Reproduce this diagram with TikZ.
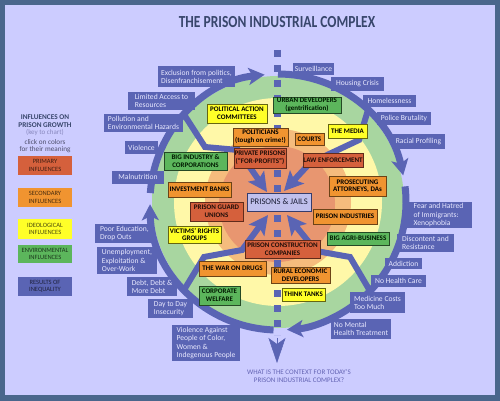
\documentclass[tikz,border=0pt]{standalone}
\usepackage{fontspec}
\setmainfont{Carlito}
\usetikzlibrary{arrows.meta,calc}
\definecolor{framec}{RGB}{74,102,140}
\definecolor{bgc}{RGB}{204,204,255}
\definecolor{ringc}{RGB}{90,100,180}
\definecolor{greenring}{RGB}{168,214,160}
\definecolor{yellowring}{RGB}{255,248,168}
\definecolor{peachc}{RGB}{245,188,125}
\definecolor{salmonc}{RGB}{232,150,112}
\definecolor{primc}{RGB}{213,96,60}
\definecolor{secc}{RGB}{240,148,48}
\definecolor{ideoc}{RGB}{255,255,40}
\definecolor{envc}{RGB}{92,182,92}
\definecolor{jailc}{RGB}{192,192,236}
\definecolor{bluetxt}{RGB}{232,232,255}
\definecolor{titlec}{RGB}{56,70,108}
\definecolor{keyc}{RGB}{136,136,190}
\definecolor{clickc}{RGB}{80,80,110}
\definecolor{bottomc}{RGB}{100,100,180}
\begin{document}
\begin{tikzpicture}[x=1pt,y=-1pt,
  bxbase/.style={line width=0.7pt, inner sep=0pt, align=center, font=\fontsize{7}{7.6}\selectfont\bfseries},
  bxprim/.style={bxbase, fill=primc, draw=primc!45!black, text=black!85!primc},
  bxsec/.style={bxbase, fill=secc, draw=secc!45!black, text=black},
  bxideo/.style={bxbase, fill=ideoc, draw=ideoc!40!black, text=black},
  bxenv/.style={bxbase, fill=envc, draw=envc!40!black, text=black!90!green},
  bxjail/.style={line width=0.7pt, inner sep=0pt, fill=jailc, draw=ringc!60!black, text=ringc!30!black, font=\fontsize{8.6}{9}\selectfont},
  bxres/.style={fill=ringc, text=bluetxt, inner sep=0pt, align=left, font=\fontsize{7.6}{8.2}\selectfont},
  bxkey/.style={inner sep=0pt, minimum width=54, align=center, font=\fontsize{6.5}{7.4}\selectfont},
  ringarrow/.style={draw=ringc, line width=7pt, -{Stealth[length=16pt,width=17pt,inset=4pt]}},
  brancharrow/.style={draw=ringc, line width=6pt, -{Stealth[length=19pt,width=19pt,inset=4pt]}}
]
\useasboundingbox (0,0) rectangle (500,401);
\fill[framec] (0,0) rectangle (500,401);
\fill[bgc] (5,5) rectangle (495,395);

% title
\node[text=titlec, font=\fontsize{13.5}{15}\selectfont\bfseries] (title) at (277,22) {\scalebox{1}[1.25]{THE PRISON INDUSTRIAL COMPLEX}};

% discs
\coordinate (C) at (278,202);
\fill[greenring] (C) circle[radius=126];
\fill[yellowring] (C) circle[radius=104];
\fill[peachc] (C) circle[radius=73];
\fill[salmonc] (277,204) circle[radius=58];

% ring
\draw[ringarrow] ($(C)+(-176:128)$) arc[start angle=-176,end angle=-96,radius=128];
\draw[ringarrow] ($(C)+(-90:128)$) arc[start angle=-90,end angle=-12,radius=128];
\draw[ringarrow] ($(C)+(-7:128)$) arc[start angle=-7,end angle=86,radius=128];
\draw[ringarrow] ($(C)+(92:128)$) arc[start angle=92,end angle=179,radius=128];

% branches
\coordinate (tl0) at (185,116); \coordinate (tl1) at (205,147); \coordinate (tl2) at (238,150); \coordinate (tl3) at (267,192);
\coordinate (tr0) at (368,110); \coordinate (tr1) at (359,140); \coordinate (tr2) at (310,163); \coordinate (tr3) at (284,191);
\coordinate (bl0) at (184,290); \coordinate (bl1) at (204,257); \coordinate (bl2) at (242,250); \coordinate (bl3) at (268,215);
\coordinate (br0) at (370,291); \coordinate (br1) at (350,257); \coordinate (br2) at (316,251); \coordinate (br3) at (287,215);
\draw[brancharrow] (tl0) -- (tl1) -- (tl2) -- (tl3);
\draw[brancharrow] (tr0) -- (tr1) -- (tr2) -- (tr3);
\draw[brancharrow] (bl0) -- (bl1) -- (bl2) -- (bl3);
\draw[brancharrow] (br0) -- (br1) -- (br2) -- (br3);

% dashed axis
\coordinate (ax0) at (277,50); \coordinate (ax1) at (277,335);
\coordinate (dart0) at (277,338); \coordinate (dart1) at (277,363);
\draw[ringc, line width=7pt, dash pattern=on 7pt off 8pt] (ax0) -- (ax1);
\draw[ringc, line width=0.5pt, -{Stealth[length=25pt,width=17pt,inset=6pt]}] (dart0) -- (dart1);

% influences
\node[bxenv, minimum width=68, minimum height=16] (urban) at (307,105) {URBAN DEVELOPERS\\(gentrification)};
\node[bxenv, minimum width=63, minimum height=18] (bigind) at (195.5,161) {BIG INDUSTRY \&\\CORPORATIONS};
\node[bxenv, minimum width=62, minimum height=13] (agri) at (358,238.5) {BIG AGRI-BUSINESS};
\node[bxenv, minimum width=41, minimum height=19] (corpw) at (219.5,295.5) {CORPORATE\\WELFARE};
\node[bxideo, minimum width=60, minimum height=19] (pac) at (237,113.5) {POLITICAL ACTION\\COMMITTEES};
\node[bxideo, minimum width=39, minimum height=14] (media) at (347.5,131) {THE MEDIA};
\node[bxideo, minimum width=53, minimum height=17] (victims) at (194.5,234.5) {VICTIMS’ RIGHTS\\GROUPS};
\node[bxideo, minimum width=43, minimum height=13] (think) at (303.5,294.5) {THINK TANKS};
\node[bxsec, minimum width=55, minimum height=18] (politicians) at (260.5,137) {POLITICIANS\\(tough on crime!)};
\node[bxsec, minimum width=29, minimum height=12] (courts) at (309.5,139) {COURTS};
\node[bxsec, minimum width=63, minimum height=15] (invest) at (199.5,189.5) {INVESTMENT BANKS};
\node[bxsec, minimum width=57, minimum height=20] (prosec) at (357.5,186) {PROSECUTING\\ATTORNEYS, DAs};
\node[bxsec, minimum width=64, minimum height=15] (prisind) at (345,216.5) {PRISON INDUSTRIES};
\node[bxsec, minimum width=67, minimum height=15] (wardrugs) at (232.5,268.5) {THE WAR ON DRUGS};
\node[bxsec, minimum width=59, minimum height=16] (rural) at (300.5,275) {RURAL ECONOMIC\\DEVELOPERS};
\node[bxprim, minimum width=52, minimum height=20] (private) at (260,158) {PRIVATE PRISONS\\(“FOR-PROFITS”)};
\node[bxprim, minimum width=60, minimum height=14] (law) at (333,160) {LAW ENFORCEMENT};
\node[bxprim, minimum width=53, minimum height=19] (guard) at (216.5,211.5) {PRISON GUARD\\UNIONS};
\node[bxprim, minimum width=75, minimum height=18] (construct) at (282.5,249) {PRISON CONSTRUCTION\\COMPANIES};
\node[bxjail, minimum width=64, minimum height=18] (jail) at (279,202) {PRISONS \& JAILS};

% results of inequality
\node[bxres, minimum width=77, minimum height=21] (excl) at (196.5,76.5) {Exclusion from politics,\\Disenfranchisement};
\node[bxres, minimum width=67, minimum height=18] (limited) at (161.5,101) {Limited Access to\\Resources};
\node[bxres, minimum width=79, minimum height=18] (pollution) at (143.5,123) {Pollution and\\Environmental Hazards};
\node[bxres, minimum width=33, minimum height=13] (violence) at (141.5,147.5) {Violence};
\node[bxres, minimum width=52, minimum height=13] (malnut) at (138,177) {Malnutrition};
\node[bxres, minimum width=59, minimum height=19] (poored) at (124.5,233.5) {Poor Education,\\Drop Outs};
\node[bxres, minimum width=60, minimum height=27] (unemp) at (127,260.5) {Unemployment,\\Exploitation \&\\Over-Work};
\node[bxres, minimum width=50, minimum height=19] (debt) at (152,286.5) {Debt, Debt \&\\More Debt};
\node[bxres, minimum width=45, minimum height=19] (daytoday) at (170.5,308.5) {Day to Day\\Insecurity};
\node[bxres, minimum width=68, minimum height=36] (violag) at (206,343) {Violence Against\\People of Color,\\Women \&\\Indegenous People};
\node[bxres, minimum width=41, minimum height=12] (surv) at (313.5,69) {Surveillance};
\node[bxres, minimum width=53, minimum height=14] (housing) at (357.5,84) {Housing Crisis};
\node[bxres, minimum width=53, minimum height=12] (homeless) at (389.5,101) {Homelessness};
\node[bxres, minimum width=54, minimum height=13] (police) at (404,118.5) {Police Brutality};
\node[bxres, minimum width=53, minimum height=15] (racial) at (418.5,141.5) {Racial Profiling};
\node[bxres, minimum width=67, minimum height=26] (fear) at (438.5,215) {Fear and Hatred\\of Immigrants:\\Xenophobia};
\node[bxres, minimum width=57, minimum height=18] (discontent) at (425.5,243) {Discontent and\\Resistance};
\node[bxres, minimum width=37, minimum height=11] (addiction) at (403.5,263.5) {Addiction};
\node[bxres, minimum width=55, minimum height=12] (nohealth) at (398.5,281) {No Health Care};
\node[bxres, minimum width=55, minimum height=21] (medicine) at (377.5,302.5) {Medicine Costs\\Too Much};
\node[bxres, minimum width=60, minimum height=20] (nomental) at (361,329) {No Mental\\Health Treatment};

% question
\node[text=bottomc, align=center, font=\fontsize{7}{7.4}\selectfont] (question) at (299,376) {WHAT IS THE CONTEXT FOR TODAY’S\\PRISON INDUSTRIAL COMPLEX?};

% legend
\node[text=titlec, align=center, font=\fontsize{7.3}{8}\selectfont\bfseries] (keytitle) at (45,121) {INFLUENCES ON\\PRISON GROWTH};
\node[text=keyc, font=\fontsize{7}{7.5}\selectfont] (keysub) at (45,133) {(key to chart)};
\node[text=clickc, align=center, font=\fontsize{7.2}{7}\selectfont] (keyclick) at (45,146.5) {click on colors\\for their meaning};
\node[bxkey, fill=primc, text=primc!30!black, minimum height=19] (kprim) at (45,165.5) {PRIMARY\\INFLUENCES};
\node[bxkey, fill=secc, text=secc!30!black, minimum height=19] (ksec) at (45,197.5) {SECONDARY\\INFLUENCES};
\node[bxkey, fill=ideoc, text=ideoc!30!black, minimum height=20] (kideo) at (45,229) {IDEOLOGICAL\\INFLUENCES};
\node[bxkey, fill=envc, text=envc!30!black, minimum height=18] (kenv) at (45,254) {ENVIRONMENTAL\\INFLUENCES};
\node[bxkey, fill=ringc, text=ringc!35!black, minimum height=19] (kres) at (45,286.5) {RESULTS OF\\INEQUALITY};
\end{tikzpicture}
\end{document}
